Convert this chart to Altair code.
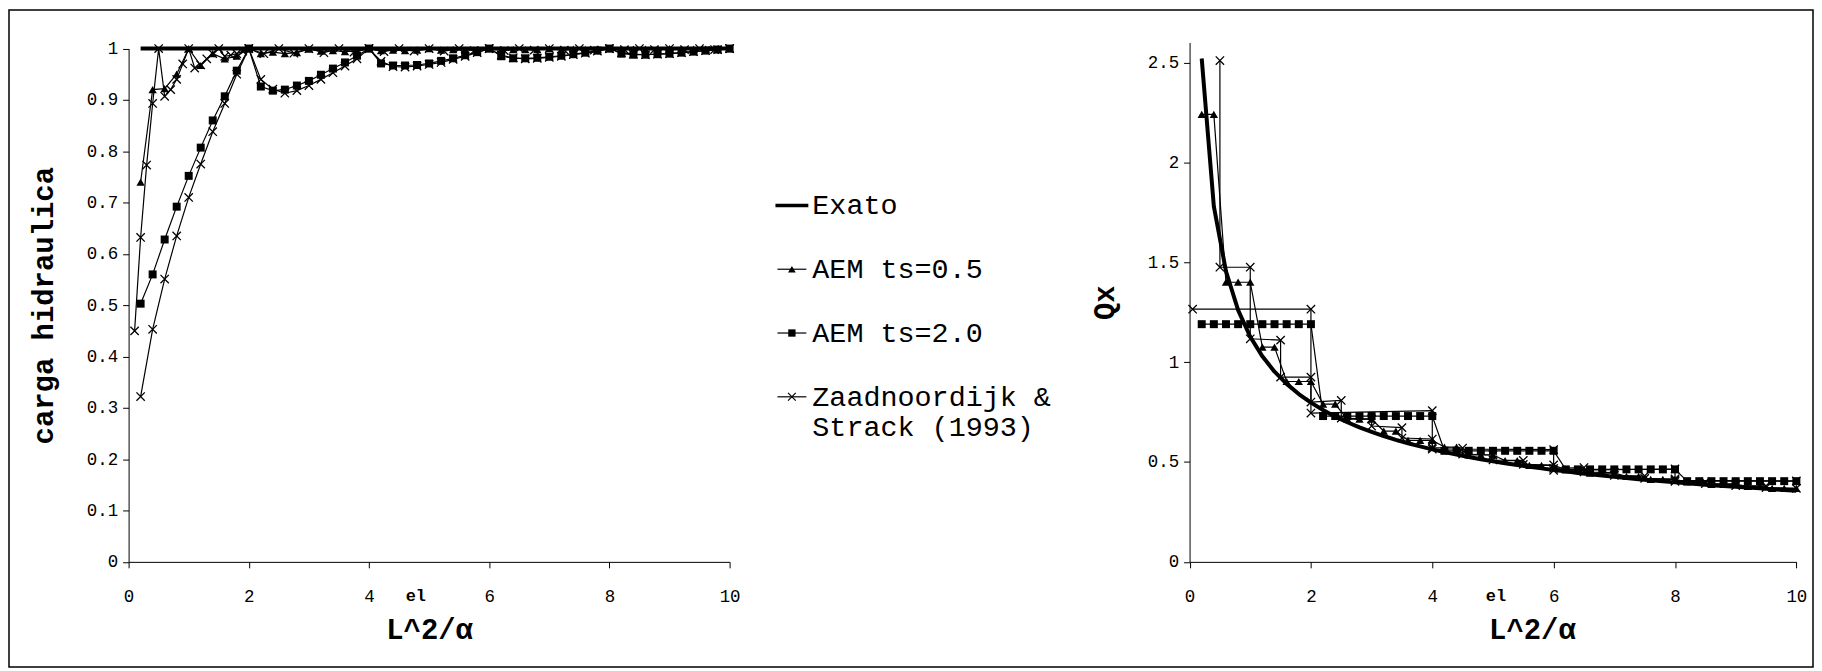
import altair as alt
import pandas as pd

FONT = "Liberation Mono"

# ------------------------------------------------------------------ data
# common x grid (L^2/alpha), step 0.2
X_02 = [0.2, 0.4, 0.6, 0.8, 1.0, 1.2, 1.4, 1.6, 1.8, 2.0,
        2.2, 2.4, 2.6, 2.8, 3.0, 3.2, 3.4, 3.6, 3.8, 4.0,
        4.2, 4.4, 4.6, 4.8, 5.0, 5.2, 5.4, 5.6, 5.8, 6.0,
        6.2, 6.4, 6.6, 6.8, 7.0, 7.2, 7.4, 7.6, 7.8, 8.0,
        8.2, 8.4, 8.6, 8.8, 9.0, 9.2, 9.4, 9.6, 9.8, 10.0]

# ---- left panel: carga hidraulica
L_EXATO_X = [0.2, 10.0]
L_EXATO_Y = [1.0, 1.0]

L_TS05_Y = [0.740, 0.920, 0.922, 0.950, 1.000, 0.967, 0.990, 0.980, 0.985, 1.000,
            0.990, 0.993, 0.990, 0.992, 0.999, 0.995, 0.996, 0.994, 0.996, 1.000,
            0.996, 0.997, 0.996, 0.997, 1.000, 0.997, 0.998, 0.997, 0.998, 1.000,
            0.998, 0.998, 0.998, 0.998, 1.000, 0.998, 0.999, 0.998, 0.999, 1.000,
            0.999, 0.999, 0.999, 0.999, 1.000, 0.999, 0.999, 0.999, 0.999, 1.000]

L_TS20_Y = [0.503, 0.560, 0.628, 0.692, 0.752, 0.807, 0.860, 0.907, 0.957, 1.000,
            0.926, 0.918, 0.920, 0.928, 0.937, 0.949, 0.961, 0.973, 0.986, 1.000,
            0.971, 0.967, 0.967, 0.968, 0.971, 0.976, 0.981, 0.987, 0.993, 1.000,
            0.985, 0.981, 0.981, 0.982, 0.984, 0.986, 0.989, 0.992, 0.996, 1.000,
            0.990, 0.988, 0.988, 0.989, 0.990, 0.992, 0.994, 0.996, 0.998, 1.000]

L_ZF_X = [0.1, 0.2, 0.3, 0.4, 0.5, 0.6, 0.7, 0.8, 0.9, 1.0,
          1.1, 1.2, 1.3, 1.4, 1.5, 1.6, 1.7, 1.8, 1.9, 2.0,
          2.25, 2.5, 2.75, 3.0, 3.25, 3.5, 3.75, 4.0, 4.25, 4.5, 4.75, 5.0,
          5.25, 5.5, 5.75, 6.0, 6.25, 6.5, 6.75, 7.0, 7.25, 7.5, 7.75, 8.0,
          8.25, 8.5, 8.75, 9.0, 9.25, 9.5, 9.75, 10.0]
L_ZF_Y = [0.450, 0.632, 0.773, 0.893, 1.000, 0.907, 0.920, 0.940, 0.970, 1.000,
          0.962, 0.968, 0.980, 0.990, 1.000, 0.985, 0.987, 0.990, 0.995, 1.000,
          0.990, 1.000, 0.991, 1.000, 0.992, 1.000, 0.993, 1.000, 0.994, 1.000, 0.995, 1.000,
          0.995, 1.000, 0.996, 1.000, 0.996, 1.000, 0.997, 1.000, 0.997, 1.000, 0.997, 1.000,
          0.998, 1.000, 0.998, 1.000, 0.998, 1.000, 0.998, 1.000]

L_ZC_Y = [0.322, 0.453, 0.551, 0.635, 0.710, 0.775, 0.838, 0.893, 0.950, 1.000,
          0.940, 0.921, 0.913, 0.918, 0.928, 0.940, 0.953, 0.966, 0.980, 1.000,
          0.975, 0.965, 0.964, 0.966, 0.969, 0.973, 0.979, 0.985, 0.992, 1.000,
          0.987, 0.982, 0.980, 0.981, 0.983, 0.985, 0.988, 0.991, 0.995, 1.000,
          0.992, 0.989, 0.988, 0.989, 0.990, 0.992, 0.994, 0.996, 0.998, 1.000]

# ---- right panel: Qx
R_EXATO_Y = [2.520, 1.780, 1.455, 1.260, 1.127, 1.029, 0.952, 0.891, 0.840, 0.797,
             0.760, 0.727, 0.699, 0.673, 0.651, 0.630, 0.611, 0.594, 0.578, 0.563,
             0.550, 0.537, 0.525, 0.514, 0.504, 0.494, 0.485, 0.476, 0.468, 0.460,
             0.453, 0.445, 0.439, 0.432, 0.426, 0.420, 0.414, 0.409, 0.403, 0.398,
             0.394, 0.389, 0.384, 0.380, 0.376, 0.372, 0.368, 0.364, 0.360, 0.356]

R_TS05_Y = [2.240, 2.240, 1.400, 1.400, 1.400, 1.075, 1.075, 0.903, 0.903, 0.903,
            0.790, 0.790, 0.715, 0.715, 0.715, 0.655, 0.655, 0.608, 0.608, 0.608,
            0.575, 0.575, 0.535, 0.535, 0.535, 0.507, 0.507, 0.483, 0.483, 0.483,
            0.462, 0.462, 0.444, 0.444, 0.444, 0.428, 0.428, 0.413, 0.413, 0.413,
            0.400, 0.400, 0.388, 0.388, 0.388, 0.378, 0.378, 0.368, 0.368, 0.368]

R_TS20_Y = [1.190, 1.190, 1.190, 1.190, 1.190, 1.190, 1.190, 1.190, 1.190, 1.190,
            0.730, 0.730, 0.730, 0.730, 0.730, 0.730, 0.730, 0.730, 0.730, 0.730,
            0.556, 0.556, 0.556, 0.556, 0.556, 0.556, 0.556, 0.556, 0.556, 0.556,
            0.463, 0.463, 0.463, 0.463, 0.463, 0.463, 0.463, 0.463, 0.463, 0.463,
            0.404, 0.404, 0.404, 0.404, 0.404, 0.404, 0.404, 0.404, 0.404, 0.404]

R_ZF_X = [0.5, 0.5, 1.0, 1.0, 1.5, 1.5, 2.0, 2.0, 2.5, 2.5, 3.0, 3.0, 3.5, 3.5,
          4.0, 4.0, 4.5, 4.5, 5.0, 5.0, 5.5, 5.5, 6.0, 6.0, 6.5, 6.5, 7.0, 7.0,
          7.5, 7.5, 8.0, 8.0, 8.5, 8.5, 9.0, 9.0, 9.5, 9.5, 10.0]
R_ZF_Y = [2.510, 1.475, 1.475, 1.117, 1.110, 0.925, 0.925, 0.800, 0.808, 0.720,
          0.715, 0.680, 0.672, 0.620, 0.615, 0.572, 0.570, 0.540, 0.535, 0.510,
          0.508, 0.488, 0.485, 0.468, 0.472, 0.450, 0.447, 0.433, 0.430, 0.418,
          0.415, 0.403, 0.400, 0.392, 0.390, 0.382, 0.380, 0.372, 0.368]

R_ZC_X = [0.05, 2.0, 2.0, 4.0, 4.0, 6.0, 6.0, 8.0, 8.0, 10.0]
R_ZC_Y = [1.265, 1.265, 0.745, 0.757, 0.565, 0.562, 0.458, 0.465, 0.408, 0.405]

LEGEND_LABELS = ["Exato", "AEM ts=0.5", "AEM ts=2.0", "Zaadnoordijk &\nStrack (1993)"]

# small stray labels under the x axes ("el"), in data units of each panel
L_EL = (4.78, -0.067)
R_EL = (5.05, -0.172)

# ------------------------------------------------------------------ layout (page pixels)
PAD = 1
ORIGIN = 8 + PAD
VIEW_W = 1810
VIEW_H = 659


def v(px):
    return px - ORIGIN


L_X_RANGE = [v(129), v(732)]
L_Y_RANGE = [v(562.6), v(47.6)]
R_X_RANGE = [v(1193.5), v(1802.3)]
R_Y_RANGE = [v(562.6), v(562.6 - 2.6 * 200.4)]
X_AXIS_OFFSET = v(562.6) - VIEW_H
R_XTITLE_X = v(1537)

LEG_Y_RANGE = [v(205), v(397)]
LEG_X0, LEG_X1, LEG_XM, LEG_XT = v(778), v(811), v(794.5), v(815)

X_PATH = "M-1,-1L1,1M-1,1L1,-1"
MSIZE = 70
LINE_W = 1.2


def frame(xs, ys):
    return pd.DataFrame({"x": xs, "y": ys, "i": list(range(len(xs)))})


def make_axes(y_values, y_title, y_offset, x_title_x=None):
    xkw = dict(orient="bottom", offset=X_AXIS_OFFSET, values=[0, 2, 4, 6, 8, 10],
               format=".1~f", title="L^2/α", labelPadding=20, titlePadding=10)
    if x_title_x is not None:
        xkw["titleX"] = x_title_x
    ax_x = alt.Axis(**xkw)
    ax_y = alt.Axis(orient="left", offset=y_offset, values=y_values, format=".1~f",
                    title=y_title, labelPadding=5, titlePadding=28)
    return ax_x, ax_y


def panel(series, xs, ys, ax_x, ax_y, el):
    layers = []
    for d, kind in series:
        base = alt.Chart(d).encode(
            x=alt.X("x:Q", scale=xs, axis=ax_x),
            y=alt.Y("y:Q", scale=ys, axis=ax_y),
            order=alt.Order("i:Q"),
        )
        if kind == "exato":
            m = base.mark_line(color="black", strokeWidth=4, strokeJoin="round")
        elif kind == "tri":
            m = base.mark_line(color="black", strokeWidth=LINE_W, point=alt.OverlayMarkDef(
                shape="triangle-up", size=MSIZE, filled=True, color="black", opacity=1))
        elif kind == "sq":
            m = base.mark_line(color="black", strokeWidth=LINE_W, point=alt.OverlayMarkDef(
                shape="square", size=MSIZE - 6, filled=True, color="black", opacity=1))
        else:
            m = base.mark_line(color="black", strokeWidth=LINE_W, point=alt.OverlayMarkDef(
                shape=X_PATH, size=MSIZE, filled=False, color="black", strokeWidth=1.3, opacity=1))
        layers.append(m)
    el_df = pd.DataFrame({"x": [el[0]], "y": [el[1]], "t": ["el"]})
    layers.append(
        alt.Chart(el_df).mark_text(font=FONT, fontWeight="bold", fontSize=17, baseline="middle",
                                   color="black")
        .encode(x=alt.X("x:Q", scale=xs, axis=ax_x), y=alt.Y("y:Q", scale=ys, axis=ax_y), text="t:N")
    )
    return alt.layer(*layers)


# ---- left panel
lxs = alt.Scale(domain=[0, 10], range=L_X_RANGE, nice=False, zero=False)
lys = alt.Scale(domain=[0, 1], range=L_Y_RANGE, nice=False, zero=False)
lax, lay = make_axes([0, 0.1, 0.2, 0.3, 0.4, 0.5, 0.6, 0.7, 0.8, 0.9, 1.0], "carga hidraulica", -L_X_RANGE[0])
left = panel([
    (frame(L_EXATO_X, L_EXATO_Y), "exato"),
    (frame(X_02, L_TS05_Y), "tri"),
    (frame(X_02, L_TS20_Y), "sq"),
    (frame(L_ZF_X, L_ZF_Y), "x"),
    (frame(X_02, L_ZC_Y), "x"),
], lxs, lys, lax, lay, L_EL)

# ---- right panel
rxs = alt.Scale(domain=[0, 10], range=R_X_RANGE, nice=False, zero=False)
rys = alt.Scale(domain=[0, 2.6], range=R_Y_RANGE, nice=False, zero=False)
rax, ray = make_axes([0, 0.5, 1, 1.5, 2, 2.5], "Qx", -R_X_RANGE[0], R_XTITLE_X)
right = panel([
    (frame(X_02, R_EXATO_Y), "exato"),
    (frame(X_02, R_TS05_Y), "tri"),
    (frame(X_02, R_TS20_Y), "sq"),
    (frame(R_ZF_X, R_ZF_Y), "x"),
    (frame(R_ZC_X, R_ZC_Y), "x"),
], rxs, rys, rax, ray, R_EL)

# ---- legend (drawn as marks)
leg_df = pd.DataFrame({"label": LEGEND_LABELS, "row": list(range(len(LEGEND_LABELS)))})
lgy = alt.Scale(domain=[0, len(LEGEND_LABELS) - 1], range=LEG_Y_RANGE, nice=False, zero=False)
ly = alt.Y("row:Q", scale=lgy, axis=None)
leg_base = alt.Chart(leg_df)
legend = alt.layer(
    leg_base.transform_filter("datum.row == 0").mark_rule(color="black", strokeWidth=3.5)
    .encode(x=alt.value(LEG_X0), x2=alt.value(LEG_X1), y=ly),
    leg_base.transform_filter("datum.row > 0").mark_rule(color="black", strokeWidth=LINE_W)
    .encode(x=alt.value(LEG_X0 + 2), x2=alt.value(LEG_X1 - 2), y=ly),
    leg_base.transform_filter("datum.row == 1").mark_point(shape="triangle-up", size=MSIZE - 10, filled=True, color="black", opacity=1)
    .encode(x=alt.value(LEG_XM), y=ly),
    leg_base.transform_filter("datum.row == 2").mark_point(shape="square", size=MSIZE - 16, filled=True, color="black", opacity=1)
    .encode(x=alt.value(LEG_XM), y=ly),
    leg_base.transform_filter("datum.row == 3").mark_point(shape=X_PATH, size=MSIZE - 10, filled=False, color="black", strokeWidth=1.2, opacity=1)
    .encode(x=alt.value(LEG_XM), y=ly),
    leg_base.mark_text(font=FONT, fontSize=28.5, align="left", baseline="top", dy=-14,
                       lineBreak="\n", lineHeight=30, color="black")
    .encode(x=alt.value(LEG_XT), y=ly, text="label:N"),
)

chart = (
    alt.layer(left, legend, right)
    .resolve_scale(x="independent", y="independent")
    .properties(width=VIEW_W, height=VIEW_H,
                autosize=alt.AutoSizeParams(type="none"),
                padding={"left": PAD, "top": PAD, "right": PAD, "bottom": PAD},
                background="white")
    .configure_view(stroke="black", strokeWidth=1.5)
    .configure_axis(labelFont=FONT, labelFontSize=17.5, labelColor="black",
                    titleFont=FONT, titleFontSize=29, titleFontWeight="bold", titleColor="black",
                    domainColor="black", domainWidth=1, tickColor="black", tickWidth=1, tickSize=6,
                    grid=False, labelFlush=False, labelOverlap=False)
)

chart.save("out.html", embed_options={"renderer": "svg", "actions": False})
